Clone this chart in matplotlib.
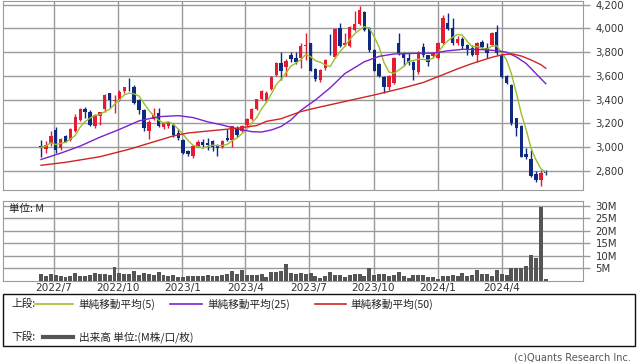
import matplotlib
matplotlib.use("Agg")
import matplotlib.pyplot as plt
from matplotlib.lines import Line2D
from matplotlib.patches import Rectangle
import numpy as np
import pandas as pd

# weekly candles
opens = [3010, 2985, 3035, 3145, 2990, 3095, 3060, 3137, 3230, 3320,
         3295, 3180, 3260, 3320, 3455, 3385, 3395, 3470, 3510, 3510,
         3400, 3310, 3140, 3240, 3290, 3170, 3175, 3190, 3120, 3060,
         2970, 2925, 3005, 3045, 3035, 3050, 3020, 3005, 3080, 3060,
         3160, 3140, 3190, 3235, 3320, 3405, 3390, 3490, 3610, 3710,
         3675, 3775, 3750, 3750, 3848, 3875, 3660, 3565, 3665, 3795,
         3760, 4000, 3860, 3850, 3990, 4040, 4140, 4000, 3820, 3700,
         3590, 3505, 3540, 3875, 3790, 3755, 3715, 3635, 3845, 3775,
         3765, 3750, 3875, 4045, 4000, 3875, 3910, 3860, 3835, 3780,
         3890, 3835, 3860, 3970, 3775, 3600, 3525, 3245, 3180, 2940,
         2905, 2775, 2725, 2795]
highs = [3060, 3050, 3140, 3170, 3080, 3100, 3160, 3280, 3330, 3340,
         3310, 3280, 3300, 3450, 3460, 3440, 3480, 3510, 3580, 3520,
         3410, 3320, 3230, 3330, 3330, 3210, 3215, 3200, 3150, 3070,
         2980, 3020, 3060, 3070, 3080, 3060, 3030, 3065, 3150, 3180,
         3180, 3190, 3250, 3330, 3410, 3480, 3470, 3600, 3720, 3800,
         3740, 3800, 3800, 3880, 3965, 3880, 3670, 3660, 3740, 3955,
         4000, 4045, 3960, 4020, 4150, 4190, 4150, 4010, 3830, 3710,
         3600, 3610, 3760, 3960, 3800, 3790, 3730, 3810, 3880, 3780,
         3800, 3890, 4115, 4130, 4085, 3940, 3930, 3870, 3860, 3890,
         3900, 3880, 3970, 4025, 3790, 3610, 3530, 3250, 3190, 2990,
         2975, 2800, 2810, 2810]
lows = [2920, 2950, 3010, 2955, 2980, 3040, 3050, 3130, 3220, 3250,
        3175, 3160, 3185, 3300, 3330, 3290, 3390, 3460, 3470, 3360,
        3280, 3140, 3070, 3230, 3170, 3150, 3160, 3090, 3060, 2945,
        2930, 2910, 3000, 2990, 2980, 2965, 2930, 2995, 3050, 3005,
        3090, 3130, 3180, 3230, 3310, 3400, 3380, 3480, 3600, 3570,
        3600, 3720, 3700, 3665, 3735, 3640, 3560, 3545, 3650, 3775,
        3755, 3840, 3850, 3840, 3980, 4030, 3975, 3800, 3640, 3590,
        3460, 3480, 3530, 3780, 3680, 3690, 3565, 3620, 3760, 3680,
        3750, 3740, 3870, 3985, 3860, 3860, 3830, 3780, 3770, 3720,
        3830, 3750, 3850, 3780, 3580, 3530, 3190, 3095, 2915, 2900,
        2750, 2710, 2675, 2770]
closes = [3000, 3020, 3095, 2975, 3070, 3045, 3155, 3255, 3325, 3300,
          3190, 3270, 3295, 3440, 3400, 3400, 3465, 3505, 3505, 3370,
          3310, 3160, 3210, 3275, 3180, 3200, 3210, 3100, 3075, 2955,
          2945, 3010, 3045, 3015, 3015, 3000, 2990, 3055, 3060, 3175,
          3105, 3175, 3240, 3320, 3405, 3470, 3460, 3590, 3705, 3645,
          3730, 3745, 3715, 3850, 3858, 3645, 3575, 3650, 3735, 3790,
          3995, 3850, 3880, 4015, 4035, 4155, 3990, 3820, 3645, 3600,
          3505, 3600, 3755, 3790, 3750, 3710, 3650, 3805, 3780, 3720,
          3795, 3880, 4085, 3995, 3875, 3910, 3850, 3820, 3780, 3880,
          3845, 3790, 3965, 3790, 3590, 3540, 3205, 3160, 2920, 2915,
          2760, 2720, 2780, 2780]
volume_m = [2.7, 1.9, 2.7, 2.4, 1.9, 1.6, 1.9, 3.1, 1.9, 1.9,
            2.1, 3.1, 2.8, 2.7, 2.1, 5.5, 3.1, 2.7, 2.7, 3.7,
            2.1, 3.1, 2.8, 2.1, 3.5, 2.4, 1.9, 2.4, 1.5, 1.6,
            1.9, 1.9, 1.9, 1.9, 2.4, 1.9, 1.9, 2.4, 2.8, 3.7,
            2.8, 4.3, 2.4, 2.4, 2.4, 2.8, 1.6, 3.5, 3.3, 4.0,
            6.7, 3.1, 2.7, 3.2, 2.7, 3.2, 1.9, 1.1, 1.9, 3.5,
            2.4, 2.4, 1.6, 2.4, 2.7, 2.7, 1.9, 5.1, 2.4, 2.7,
            2.7, 1.9, 2.4, 3.5, 1.9, 1.1, 2.4, 2.4, 2.4, 1.6,
            1.6, 0.5, 1.9, 1.9, 2.1, 1.9, 3.2, 1.9, 2.4, 4.3,
            2.7, 2.7, 1.9, 4.3, 2.7, 2.4, 4.9, 4.9, 4.9, 5.9,
            10.3, 9.1, 29.6, 0.5]

# 25 and 50 week averages as drawn (they start before the visible data)
ma25_week = [0, 4, 8, 12, 16, 20, 24, 28, 31, 34, 37, 40, 43, 45, 47, 49,
             51, 53, 56, 59, 62, 66, 69, 72, 76, 80, 83, 86, 90, 93, 95,
             97, 99, 101, 103]
ma25_val = [2897, 2950, 3010, 3084, 3150, 3222, 3257, 3266, 3250, 3214,
            3187, 3155, 3131, 3128, 3145, 3175, 3230, 3310, 3398, 3500,
            3620, 3720, 3765, 3785, 3790, 3792, 3812, 3824, 3822, 3813,
            3800, 3760, 3705, 3620, 3535]
ma50_week = [0, 5, 12, 18, 22, 27, 30, 35, 40, 44, 46, 49, 53, 56, 62, 68,
             74, 78, 82, 85, 88, 92, 94, 96, 98, 100, 102, 103]
ma50_val = [2848, 2873, 2920, 2983, 3033, 3095, 3120, 3140, 3160, 3182,
            3218, 3240, 3300, 3330, 3385, 3440, 3500, 3545, 3610, 3660,
            3705, 3757, 3777, 3787, 3768, 3735, 3695, 3665]

first_week = "2022-06-13"
tick_dates = ["2022-07-01", "2022-10-01", "2023-01-01", "2023-04-01",
              "2023-07-01", "2023-10-01", "2024-01-01", "2024-04-01"]
tick_labels = ["2022/7", "2022/10", "2023/1", "2023/4",
               "2023/7", "2023/10", "2024/1", "2024/4"]
price_ticks = [2800, 3000, 3200, 3400, 3600, 3800, 4000, 4200]
vol_ticks = [5, 10, 15, 20, 25, 30]

UP = "#e31b33"
DOWN = "#0e2a80"
C5 = "#9dbf2a"
C25 = "#7a22cc"
C50 = "#cf2424"
GRID = "#9a9a9a"
TXT = "#333333"
JP = ["Noto Sans CJK JP", "DejaVu Sans"]

W, H = 638, 362


def rect(x0, y0, x1, y1):
    return [x0 / W, 1 - y1 / H, (x1 - x0) / W, (y1 - y0) / H]


def fx(x):
    return x / W


def fy(y):
    return 1 - y / H


x = np.arange(len(closes))
o = np.array(opens)
c = np.array(closes)
hi = np.array(highs)
lo = np.array(lows)
up = c >= o
cols = np.where(up, UP, DOWN)
ma5 = pd.Series(closes).rolling(5, min_periods=1).mean()

start = pd.Timestamp(first_week)
tick_pos = [(pd.Timestamp(d) - start).days / 7 for d in tick_dates]
xlim = (-7.76, 110.6)

fig = plt.figure(figsize=(W / 100, H / 100), dpi=100)

# ---- price panel
ax = fig.add_axes(rect(3, 1, 583, 190))
ax.set_xlim(*xlim)
ax.set_ylim(2640, 4231)
for yv in price_ticks:
    ax.axhline(yv, color=GRID, lw=1, zorder=0)
for xv in tick_pos:
    ax.axvline(xv, color=GRID, lw=1, zorder=0)
ax.vlines(x, lo, hi, colors=cols, lw=1, zorder=2)
ax.bar(x, np.maximum(np.abs(c - o), 6), bottom=np.minimum(o, c), width=0.7,
       color=cols, lw=0, zorder=3)
ax.plot(x, ma5, color=C5, lw=1, zorder=4)
ax.plot(ma25_week, ma25_val, color=C25, lw=1, zorder=4)
ax.plot(ma50_week, ma50_val, color=C50, lw=1, zorder=4)
ax.yaxis.tick_right()
ax.set_yticks(price_ticks)
ax.set_yticklabels([f"{v:,}" for v in price_ticks])
ax.set_xticks([])
ax.tick_params(axis="y", length=5, width=1, color=GRID, labelsize=7.3,
               labelcolor=TXT, pad=4)
for s in ax.spines.values():
    s.set_color(GRID)

# ---- volume panel
av = fig.add_axes(rect(3, 201, 583, 280.5))
av.set_xlim(*xlim)
av.set_ylim(0, 31.9)
for yv in vol_ticks:
    av.axhline(yv, color=GRID, lw=1, zorder=0)
for xv in tick_pos:
    av.axvline(xv, color=GRID, lw=1, zorder=0)
av.bar(x, volume_m, width=0.8, color="#555555", lw=0, zorder=3)
av.yaxis.tick_right()
av.set_yticks(vol_ticks)
av.set_yticklabels([f"{v}M" for v in vol_ticks])
av.set_xticks(tick_pos)
av.set_xticklabels(tick_labels)
av.tick_params(axis="y", length=5, width=1, color=GRID, labelsize=7.3,
               labelcolor=TXT, pad=4)
av.tick_params(axis="x", length=0, labelsize=7.6, labelcolor=TXT, pad=2)
for s in av.spines.values():
    s.set_color(GRID)
av.text(0.01, 0.9, "単位: M", transform=av.transAxes, fontsize=7.6,
        family=JP, color="#222222", va="center", ha="left")

# ---- legend box
fig.add_artist(Rectangle((fx(3), fy(346)), (635 - 3) / W, (346 - 294) / H,
                         transform=fig.transFigure, fill=False,
                         edgecolor="#111111", lw=1))
ly1, ly2 = fy(304), fy(337)
fig.text(fx(11), ly1, "上段:", fontsize=7.7, family=JP, va="center", color="#222222")
fig.text(fx(11), ly2, "下段:", fontsize=7.7, family=JP, va="center", color="#222222")
for x0, x1, col, lab, tx in [(35, 73, C5, "単純移動平均(5)", 78),
                             (170, 202, C25, "単純移動平均(25)", 207),
                             (315, 346, C50, "単純移動平均(50)", 350)]:
    fig.add_artist(Line2D([fx(x0), fx(x1)], [ly1, ly1], color=col, lw=1.2,
                          transform=fig.transFigure))
    fig.text(fx(tx), ly1, lab, fontsize=7.7, family=JP, va="center", color="#222222")
fig.add_artist(Line2D([fx(43), fx(73)], [ly2, ly2], color="#555555", lw=3,
                      transform=fig.transFigure))
fig.text(fx(79), ly2, "出来高 単位:(M株/口/枚)", fontsize=7.7, family=JP,
         va="center", color="#222222")

fig.text(fx(631), fy(357), "(c)Quants Research Inc.", fontsize=7, ha="right",
         va="center", color="#555555")

fig.savefig("out.png", dpi=100)
